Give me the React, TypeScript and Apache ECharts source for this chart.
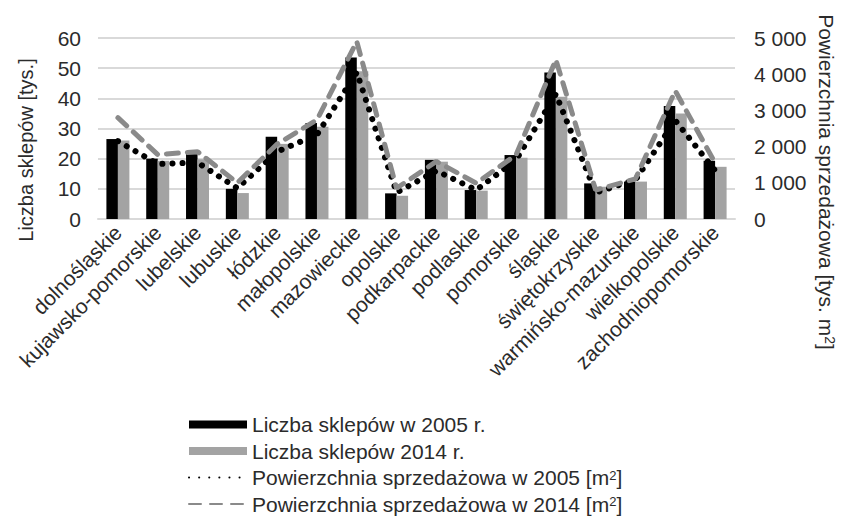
import React, { useEffect, useRef } from "react";
import * as echarts from "echarts";

const categories = [
  "dolnośląskie",
  "kujawsko-pomorskie",
  "lubelskie",
  "lubuskie",
  "łódzkie",
  "małopolskie",
  "mazowieckie",
  "opolskie",
  "podkarpackie",
  "podlaskie",
  "pomorskie",
  "śląskie",
  "świętokrzyskie",
  "warmińsko-mazurskie",
  "wielkopolskie",
  "zachodniopomorskie",
];

const shops2005 = [26.5, 20, 21.5, 10, 27.3, 31.8, 53.5, 8.5, 19.6, 9.6, 21.2, 48.6, 11.8, 12.4, 37.5, 19.3];
const shops2014 = [26, 19.3, 19.8, 8.6, 24.9, 30.6, 49, 7.7, 19, 9.4, 20.3, 40.5, 10.7, 12.4, 35, 17.3];
const area2005 = [2150, 1520, 1560, 850, 1860, 2330, 4050, 730, 1330, 800, 1630, 3450, 730, 1080, 2720, 1340];
const area2014 = [2800, 1780, 1860, 1000, 2070, 2740, 4900, 850, 1590, 990, 1770, 4400, 800, 1110, 3540, 1550];

const leftTicks = [0, 10, 20, 30, 40, 50, 60];
const rightTicks = [0, 1000, 2000, 3000, 4000, 5000];

const seriesNames = [
  "Liczba sklepów w 2005 r.",
  "Liczba sklepów 2014 r.",
  "Powierzchnia sprzedażowa w 2005 [m2]",
  "Powierzchnia sprzedażowa w 2014 [m2]",
];

const FONT = "'Liberation Sans', Arial, Helvetica, sans-serif";
const TEXT = "#2b2b2b";

export default function App() {
  const ref = useRef<HTMLDivElement>(null);

  useEffect(() => {
    if (!ref.current) return;
    const chart = echarts.init(ref.current, null, { renderer: "svg" });
    const sup = { fontSize: 13, verticalAlign: "top", lineHeight: 18, fontFamily: FONT, color: TEXT };
    chart.setOption({
      animation: false,
      backgroundColor: "#ffffff",
      grid: { left: 98, right: 113, top: 38, bottom: 300, containLabel: false },
      legend: {
        orient: "vertical",
        left: 183,
        top: 409,
        height: 115,
        itemWidth: 58,
        itemHeight: 8,
        itemGap: 5.5,
        data: seriesNames.map((n, i) =>
          i < 2 ? { name: n, icon: "rect" } : { name: n, itemStyle: { opacity: 0 } }
        ),
        textStyle: {
          fontSize: 21,
          color: TEXT,
          fontFamily: FONT,
          lineHeight: 18,
          rich: { sup },
        },
        formatter: (name: string) => name.replace("[m2]", "[m{sup|2}]"),
      },
      xAxis: {
        type: "category",
        data: categories,
        axisLine: { show: true, lineStyle: { color: "#d9d9d9", width: 2 } },
        axisTick: { show: false },
        axisLabel: {
          interval: 0,
          rotate: 45,
          margin: 10,
          fontSize: 21,
          color: TEXT,
          fontFamily: FONT,
        },
      },
      yAxis: [
        {
          type: "value",
          min: leftTicks[0],
          max: leftTicks[leftTicks.length - 1],
          interval: 10,
          axisLine: { show: false },
          axisTick: { show: false },
          splitLine: { show: true, lineStyle: { color: "#d9d9d9", width: 2 } },
          axisLabel: { fontSize: 21, color: TEXT, fontFamily: FONT, margin: 17 },
        },
        {
          type: "value",
          min: rightTicks[0],
          max: rightTicks[rightTicks.length - 1],
          interval: 1000,
          position: "right",
          axisLine: { show: false },
          axisTick: { show: false },
          splitLine: { show: false },
          axisLabel: {
            fontSize: 21,
            color: TEXT,
            fontFamily: FONT,
            margin: 19,
            formatter: (v: number) =>
              v >= 1000 ? `${Math.floor(v / 1000)} ${String(v % 1000).padStart(3, "0")}` : String(v),
          },
        },
      ],
      graphic: [
        {
          type: "text",
          x: 26,
          y: 150,
          rotation: Math.PI / 2,
          style: {
            text: "Liczba sklepów [tys.]",
            fontSize: 20,
            fontFamily: FONT,
            fill: TEXT,
            align: "center",
            verticalAlign: "middle",
          },
        },
        {
          type: "text",
          x: 826,
          y: 182,
          rotation: -Math.PI / 2,
          style: {
            text: "Powierzchnia sprzedażowa [tys. m{sup|2}]",
            fontSize: 21,
            fontFamily: FONT,
            fill: TEXT,
            lineHeight: 22,
            align: "center",
            verticalAlign: "middle",
            rich: { sup: { fontSize: 14, verticalAlign: "top", lineHeight: 22, fill: TEXT, fontFamily: FONT } },
          },
        },
      ],
      series: [
        {
          name: seriesNames[0],
          type: "bar",
          data: shops2005,
          barWidth: 11.5,
          barGap: "0%",
          itemStyle: { color: "#000000" },
        },
        {
          name: seriesNames[1],
          type: "bar",
          data: shops2014,
          barWidth: 11.5,
          barGap: "0%",
          itemStyle: { color: "#a3a3a3" },
        },
        {
          name: seriesNames[2],
          type: "line",
          yAxisIndex: 1,
          data: area2005,
          symbol: "none",
          showSymbol: false,
          itemStyle: { color: "#000000" },
          lineStyle: { color: "#000000", width: 6, type: [0.1, 10], cap: "round" },
          z: 3,
        },
        {
          name: seriesNames[3],
          type: "line",
          yAxisIndex: 1,
          data: area2014,
          symbol: "none",
          showSymbol: false,
          itemStyle: { color: "#8a8a8a" },
          lineStyle: { color: "#8a8a8a", width: 5, type: [12, 9], cap: "round" },
          z: 4,
        },
      ],
    });
    return () => chart.dispose();
  }, []);

  return (
    <div
      ref={ref}
      style={{ position: "absolute", left: 0, top: 0, width: 848, height: 519 }}
    />
  );
}
